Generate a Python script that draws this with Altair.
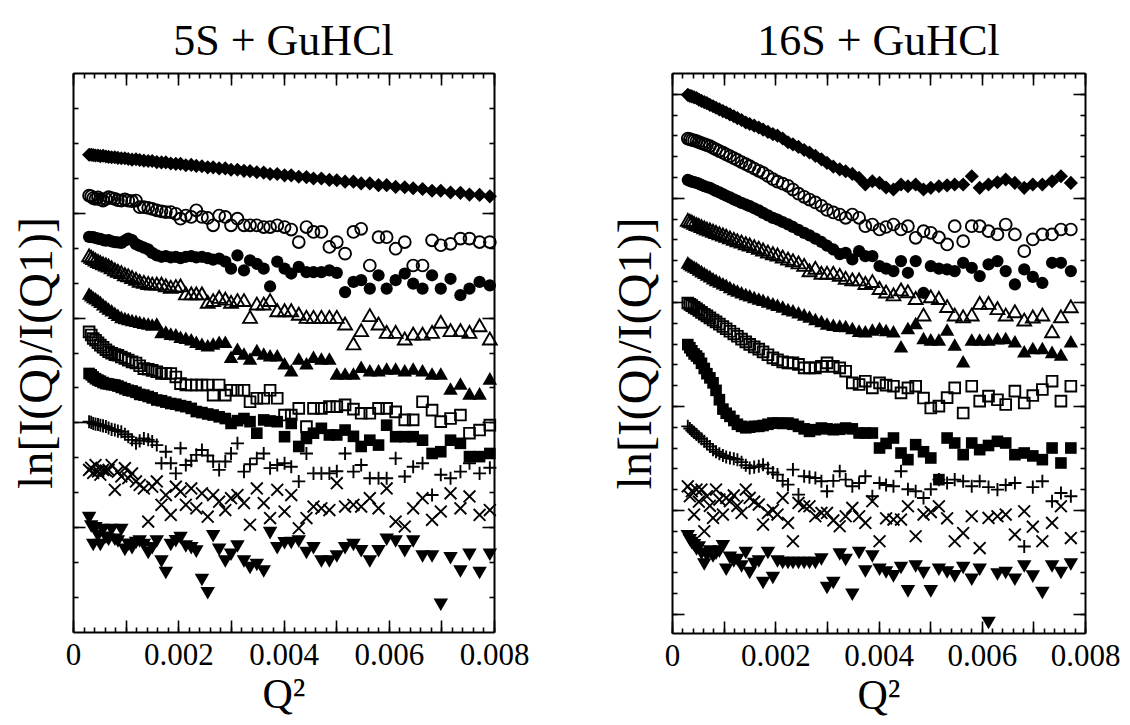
import altair as alt
import pandas as pd

# Q^2 sample positions, in units of 1e-3
Q2_E3 = [
    0.306, 0.346, 0.384, 0.428, 0.475, 0.520, 0.571, 0.625, 0.676, 0.734,
    0.795, 0.853, 0.918, 0.986, 1.050, 1.122, 1.197, 1.267, 1.347, 1.429,
    1.505, 1.592, 1.681, 1.764, 1.858, 1.954, 2.043, 2.144, 2.247, 2.343,
    2.450, 2.560, 2.663, 2.777, 2.894, 3.003, 3.125, 3.249, 3.364, 3.493,
    3.624, 3.745, 3.881, 4.020, 4.147, 4.290, 4.436, 4.570, 4.720, 4.872,
    5.013, 5.170, 5.329, 5.476, 5.640, 5.806, 5.960, 6.131, 6.304, 6.464,
    6.642, 6.823, 6.989, 7.174, 7.362, 7.534, 7.726, 7.921,
]

# ---------------- 5S + GuHCl (left) ----------------
L_DIAMOND = [
    13.66, 13.66, 13.65, 13.64, 13.64, 13.62, 13.63, 13.61, 13.60, 13.59,
    13.59, 13.57, 13.56, 13.56, 13.54, 13.52, 13.53, 13.51, 13.49, 13.48,
    13.48, 13.45, 13.44, 13.44, 13.41, 13.40, 13.40, 13.36, 13.37, 13.34,
    13.33, 13.30, 13.30, 13.27, 13.27, 13.23, 13.23, 13.20, 13.19, 13.16,
    13.15, 13.11, 13.11, 13.07, 13.07, 13.03, 13.02, 12.98, 12.98, 12.94,
    12.93, 12.89, 12.89, 12.84, 12.84, 12.79, 12.79, 12.74, 12.73, 12.70,
    12.68, 12.63, 12.63, 12.58, 12.57, 12.52, 12.51, 12.47,
]
L_OPEN_CIRCLE = [
    12.49, 12.47, 12.42, 12.40, 12.44, 12.38, 12.35, 12.40, 12.45, 12.42,
    12.40, 12.36, 12.35, 12.38, 12.35, 12.33, 12.35, 12.16, 12.16, 12.14,
    12.11, 12.07, 12.04, 12.02, 12.02, 11.97, 11.83, 11.92, 11.88, 12.07,
    11.88, 11.85, 11.64, 11.92, 11.88, 11.64, 11.83, 11.64, 11.64, 11.64,
    11.59, 11.59, 11.64, 11.59, 11.52, 11.16, 11.59, 11.45, 11.45, 11.02,
    11.16, 10.83, 11.45, 11.54, 10.49, 11.30, 11.30, 10.97, 11.16, 10.49,
    10.49, 11.21, 11.07, 11.11, 11.26, 11.26, 11.16, 11.16,
]
L_CIRCLE = [
    11.31, 11.30, 11.30, 11.28, 11.26, 11.25, 11.22, 11.20, 11.22, 11.18,
    11.16, 11.15, 11.14, 11.20, 11.26, 11.22, 11.10, 11.05, 11.00, 10.95,
    10.85, 10.78, 10.74, 10.76, 10.72, 10.74, 10.70, 10.74, 10.76, 10.72,
    10.74, 10.70, 10.66, 10.69, 10.60, 10.40, 10.78, 10.35, 10.64, 10.54,
    10.40, 9.89, 10.60, 10.40, 10.26, 10.45, 10.30, 10.30, 10.30, 10.35,
    10.28, 9.73, 10.02, 10.07, 9.83, 10.21, 9.83, 10.07, 10.26, 9.97,
    9.83, 10.21, 9.83, 10.11, 9.64, 9.83, 10.02, 9.92,
]
L_OPEN_TRIANGLE = [
    10.78, 10.74, 10.70, 10.66, 10.62, 10.59, 10.55, 10.52, 10.49, 10.44,
    10.38, 10.34, 10.30, 10.24, 10.21, 10.16, 10.11, 10.05, 10.02, 9.99,
    9.97, 9.97, 9.97, 9.92, 9.88, 9.90, 9.92, 9.69, 9.69, 9.69,
    9.69, 9.45, 9.50, 9.59, 9.54, 9.45, 9.50, 9.50, 9.02, 9.40,
    9.40, 9.50, 9.21, 9.21, 9.21, 9.11, 9.02, 9.02, 9.02, 9.02,
    9.02, 8.83, 8.26, 8.64, 9.07, 8.83, 8.59, 8.59, 8.40, 8.54,
    8.54, 8.59, 8.88, 8.64, 8.64, 8.59, 8.78, 8.40,
]
L_TRIANGLE = [
    9.69, 9.64, 9.59, 9.55, 9.50, 9.45, 9.38, 9.32, 9.26, 9.21,
    9.14, 9.08, 9.02, 8.99, 8.96, 8.93, 8.91, 8.88, 8.85, 8.83,
    8.80, 8.83, 8.59, 8.60, 8.54, 8.52, 8.45, 8.42, 8.38, 8.31,
    8.25, 8.21, 8.26, 8.31, 8.31, 7.88, 8.11, 7.97, 7.83, 8.07,
    7.97, 7.92, 7.92, 7.69, 7.49, 7.83, 7.69, 7.88, 7.83, 7.83,
    7.40, 7.40, 7.40, 7.59, 7.49, 7.49, 7.54, 7.54, 7.49, 7.54,
    7.49, 7.40, 7.40, 6.97, 7.11, 6.83, 6.83, 7.26,
]
L_OPEN_SQUARE = [
    8.59, 8.50, 8.40, 8.35, 8.28, 8.21, 8.15, 8.08, 8.02, 7.98,
    7.94, 7.92, 7.87, 7.83, 7.78, 7.73, 7.70, 7.62, 7.54, 7.52,
    7.49, 7.45, 7.40, 7.40, 7.40, 7.30, 7.11, 7.07, 7.07, 7.07,
    7.07, 7.07, 6.78, 7.07, 6.78, 6.92, 6.92, 6.92, 6.59, 6.69,
    6.69, 6.92, 6.69, 6.21, 6.21, 6.40, 5.88, 6.40, 6.40, 6.45,
    6.45, 6.50, 6.38, 6.26, 6.26, 6.40, 6.40, 6.30, 6.07, 6.07,
    6.59, 6.35, 6.02, 6.11, 6.21, 5.69, 5.78, 5.92,
]
L_SQUARE = [
    7.40, 7.36, 7.30, 7.25, 7.21, 7.18, 7.14, 7.11, 7.10, 7.08,
    7.07, 7.04, 7.00, 6.96, 6.92, 6.90, 6.86, 6.80, 6.78, 6.74,
    6.70, 6.64, 6.62, 6.58, 6.54, 6.52, 6.48, 6.45, 6.40, 6.31,
    6.28, 6.24, 6.21, 6.16, 6.11, 5.97, 6.05, 6.11, 6.02, 5.69,
    6.07, 6.04, 6.02, 5.59, 5.97, 5.31, 5.54, 5.69, 5.83, 5.64,
    5.64, 5.78, 5.60, 5.31, 5.49, 5.35, 5.92, 5.59, 5.59, 5.59,
    5.49, 5.11, 5.16, 5.49, 5.40, 5.02, 5.02, 5.11,
]
L_PLUS = [
    6.02, 6.00, 5.97, 5.95, 5.94, 5.92, 5.90, 5.88, 5.84, 5.80,
    5.78, 5.75, 5.73, 5.66, 5.59, 5.50, 5.40, 5.47, 5.54, 5.50,
    5.45, 5.35, 4.83, 5.16, 4.83, 4.54, 5.26, 4.78, 4.90, 5.07,
    5.21, 5.05, 4.88, 4.64, 4.88, 5.11, 5.40, 4.59, 4.80, 4.97,
    5.11, 4.69, 4.78, 4.83, 4.73, 4.31, 5.11, 4.54, 4.54, 4.54,
    4.60, 5.11, 4.59, 4.78, 4.40, 4.40, 4.40, 4.97, 4.45, 4.73,
    4.83, 3.92, 4.50, 4.40, 4.59, 4.83, 4.54, 4.70,
]
L_CROSS = [
    4.64, 4.70, 4.55, 4.78, 4.60, 4.50, 4.64, 4.62, 4.64, 4.78,
    4.07, 4.59, 4.45, 4.69, 4.40, 4.54, 4.31, 4.21, 4.11, 3.16,
    4.16, 4.31, 3.64, 3.92, 3.35, 4.16, 4.02, 3.64, 4.11, 3.54,
    3.97, 3.30, 3.92, 3.73, 3.49, 3.83, 3.92, 3.69, 3.07, 4.11,
    3.69, 3.26, 4.07, 3.45, 3.92, 2.97, 3.26, 3.59, 3.54, 3.49,
    4.26, 3.59, 3.64, 3.59, 3.83, 3.54, 4.11, 3.16, 3.02, 3.54,
    3.83, 3.21, 3.45, 3.97, 3.54, 3.88, 3.35, 3.49,
]
L_DOWN_TRIANGLE = [
    3.26, 3.02, 2.49, 2.97, 2.75, 2.49, 2.92, 2.70, 2.64, 2.92,
    2.64, 2.59, 2.92, 2.35, 2.50, 2.40, 2.55, 2.59, 2.49, 2.26,
    2.40, 2.59, 2.02, 1.69, 2.49, 2.60, 2.69, 2.45, 2.40, 2.30,
    1.49, 1.11, 2.74, 2.35, 2.02, 2.21, 2.45, 2.02, 1.83, 1.92,
    1.73, 2.83, 2.40, 2.54, 2.55, 2.59, 2.26, 2.40, 2.02, 2.02,
    2.16, 2.40, 2.49, 2.31, 2.02, 2.31, 2.64, 2.59, 2.31, 2.59,
    2.16, 2.16, 0.78, 2.11, 1.73, 2.21, 1.69, 2.21,
]

# ---------------- 16S + GuHCl (right) ----------------
R_DIAMOND = [
    24.95, 24.90, 24.88, 24.83, 24.80, 24.72, 24.66, 24.60, 24.55, 24.47,
    24.40, 24.33, 24.25, 24.17, 24.10, 24.01, 23.92, 23.83, 23.74, 23.62,
    23.55, 23.47, 23.38, 23.28, 23.17, 23.06, 22.99, 22.85, 22.67, 22.57,
    22.45, 22.30, 22.18, 22.02, 21.85, 21.68, 21.50, 21.37, 21.28, 21.15,
    20.96, 20.64, 20.80, 20.72, 20.50, 20.40, 20.64, 20.56, 20.64, 20.40,
    20.48, 20.56, 20.60, 20.64, 20.64, 21.04, 20.48, 20.64, 20.75, 20.88,
    20.72, 20.48, 20.64, 20.64, 20.80, 21.04, 20.72,
]
R_OPEN_CIRCLE = [
    22.85, 22.82, 22.78, 22.76, 22.73, 22.68, 22.63, 22.58, 22.53, 22.49,
    22.40, 22.33, 22.25, 22.17, 22.09, 22.00, 21.91, 21.82, 21.72, 21.62,
    21.52, 21.41, 21.30, 21.20, 21.05, 20.90, 20.78, 20.68, 20.58, 20.40,
    20.20, 20.05, 19.92, 19.78, 19.62, 19.42, 19.30, 19.20, 19.04, 19.20,
    19.04, 18.64, 18.72, 18.48, 18.60, 18.72, 18.48, 18.64, 18.08, 18.40,
    18.32, 18.10, 17.76, 18.64, 17.92, 18.64, 18.64, 18.40, 18.24, 18.72,
    18.24, 17.44, 18.00, 18.24, 18.24, 18.48, 18.48,
]
R_CIRCLE = [
    20.86, 20.82, 20.78, 20.76, 20.72, 20.68, 20.62, 20.56, 20.52, 20.48,
    20.40, 20.33, 20.26, 20.18, 20.10, 20.02, 19.93, 19.85, 19.76, 19.68,
    19.60, 19.50, 19.40, 19.28, 19.16, 19.04, 18.96, 18.84, 18.72, 18.60,
    18.46, 18.32, 18.20, 18.04, 17.88, 17.70, 17.52, 17.30, 17.36, 17.04,
    17.44, 17.20, 17.20, 16.72, 16.60, 16.48, 16.96, 16.40, 16.96, 15.43,
    16.72, 16.60, 16.56, 16.48, 16.88, 16.64, 16.24, 16.80, 16.96, 16.48,
    15.84, 16.56, 16.20, 15.91, 16.88, 16.88, 16.48,
]
R_OPEN_TRIANGLE = [
    18.94, 18.90, 18.86, 18.80, 18.74, 18.70, 18.64, 18.58, 18.52, 18.48,
    18.42, 18.36, 18.30, 18.24, 18.18, 18.10, 18.03, 17.96, 17.90, 17.82,
    17.76, 17.68, 17.60, 17.52, 17.42, 17.34, 17.28, 17.18, 17.08, 17.00,
    16.90, 16.78, 16.52, 16.64, 16.40, 16.40, 16.40, 16.30, 16.16, 16.08,
    16.08, 15.91, 16.00, 15.67, 15.50, 15.36, 15.60, 15.51, 15.19, 14.39,
    15.27, 15.19, 14.80, 14.39, 14.31, 14.39, 14.95, 14.95, 14.70, 14.39,
    14.55, 14.15, 14.30, 14.39, 13.59, 14.31, 14.79,
]
R_TRIANGLE = [
    16.90, 16.82, 16.76, 16.70, 16.64, 16.56, 16.48, 16.40, 16.32, 16.24,
    16.14, 16.06, 15.98, 15.90, 15.82, 15.72, 15.62, 15.55, 15.46, 15.38,
    15.32, 15.24, 15.16, 15.10, 15.02, 14.94, 14.86, 14.78, 14.66, 14.60,
    14.50, 14.40, 14.30, 14.18, 14.08, 13.96, 13.90, 13.86, 13.84, 13.75,
    13.62, 13.59, 13.67, 13.75, 13.65, 13.59, 12.87, 13.75, 13.99, 13.27,
    13.20, 13.19, 13.67, 12.95, 12.15, 13.19, 13.19, 13.19, 13.25, 13.27,
    13.11, 12.63, 12.79, 12.79, 12.60, 12.47, 13.11,
]
R_OPEN_SQUARE = [
    14.95, 14.88, 14.82, 14.74, 14.67, 14.59, 14.50, 14.41, 14.33, 14.23,
    14.13, 14.04, 13.93, 13.82, 13.71, 13.59, 13.46, 13.35, 13.21, 13.08,
    12.96, 12.84, 12.73, 12.60, 12.46, 12.31, 12.22, 12.12, 12.07, 12.07,
    12.00, 11.83, 11.83, 11.83, 11.90, 12.07, 11.90, 11.83, 11.67, 11.11,
    11.03, 11.19, 10.87, 11.11, 11.00, 10.95, 10.63, 10.87, 10.95, 10.38,
    9.90, 9.99, 10.40, 10.87, 9.66, 10.95, 10.23, 10.47, 10.30, 10.07,
    10.71, 10.14, 10.50, 10.79, 11.19, 10.23, 10.95,
]
R_SQUARE = [
    12.95, 12.80, 12.65, 12.50, 12.40, 12.28, 12.05, 11.80, 11.55, 11.35,
    11.11, 10.75, 10.30, 9.85, 9.65, 9.50, 9.30, 9.12, 9.02, 8.95,
    8.98, 9.02, 9.02, 9.06, 9.12, 9.18, 9.18, 9.16, 9.18, 9.12,
    9.02, 8.90, 8.78, 8.86, 8.94, 8.90, 8.86, 8.88, 8.94, 8.90,
    8.70, 8.70, 8.70, 7.98, 8.20, 8.46, 7.74, 7.42, 8.14, 7.80,
    7.50, 6.46, 8.46, 8.22, 7.66, 8.22, 7.90, 8.10, 8.30, 8.22,
    7.66, 7.74, 7.60, 7.42, 7.98, 7.26, 7.98,
]
R_PLUS = [
    9.02, 8.92, 8.82, 8.72, 8.63, 8.52, 8.42, 8.30, 8.18, 8.05,
    7.90, 7.80, 7.70, 7.62, 7.55, 7.50, 7.46, 7.42, 7.30, 7.15,
    7.02, 7.06, 7.10, 7.18, 7.00, 6.80, 6.70, 6.40, 6.22, 6.94,
    5.74, 6.62, 6.58, 6.54, 6.38, 5.90, 6.40, 6.86, 6.46, 6.14,
    6.30, 6.62, 5.66, 6.30, 6.20, 6.14, 6.86, 6.00, 5.90, 5.58,
    6.00, 6.46, 6.30, 6.46, 6.38, 6.14, 6.38, 6.10, 5.98, 6.20,
    6.30, 3.25, 6.10, 6.38, 5.42, 5.82, 5.66,
]
R_CROSS = [
    6.14, 5.66, 5.90, 4.78, 5.98, 5.40, 5.98, 3.98, 5.66, 5.20,
    4.62, 5.98, 5.50, 4.78, 5.58, 5.42, 5.70, 5.20, 4.86, 5.98,
    5.58, 5.40, 5.26, 4.30, 4.86, 5.00, 4.78, 5.58, 4.38, 3.50,
    5.34, 5.18, 5.18, 4.70, 4.86, 4.86, 4.50, 4.22, 4.70, 5.10,
    4.70, 4.38, 5.42, 3.50, 4.60, 4.54, 4.54, 5.18, 3.74, 4.78,
    4.90, 5.18, 4.60, 3.50, 3.89, 4.70, 3.17, 4.62, 4.70, 4.78,
    3.82, 4.94, 4.20, 3.50, 4.38, 5.18, 3.65,
]
R_DOWN_TRIANGLE = [
    3.74, 3.55, 3.41, 3.30, 3.10, 3.20, 2.90, 2.38, 2.80, 3.01,
    2.77, 2.90, 3.00, 3.26, 2.13, 2.70, 2.53, 2.60, 2.29, 2.93,
    1.97, 2.40, 2.53, 1.49, 2.93, 1.73, 2.53, 2.45, 2.45, 2.45,
    2.45, 2.45, 2.45, 2.45, 2.62, 1.25, 1.49, 2.86, 2.60, 0.93,
    2.93, 2.05, 2.77, 2.13, 2.00, 1.81, 2.21, 1.09, 2.29, 1.97,
    1.09, 2.13, 2.00, 1.81, 2.21, 1.65, 2.13, -0.43, 1.90, 1.97,
    1.65, 2.29, 1.80, 1.01, 2.29, 1.97, 2.38,
]

X_DOMAIN = [0, 0.008]
X_LABELS = [0, 0.002, 0.004, 0.006, 0.008]
X_MAJOR = [0, 0.001, 0.002, 0.003, 0.004, 0.005, 0.006, 0.007, 0.008]
X_MINOR_STEP = 0.0002

L_Y_DOMAIN = [0, 16]
L_Y_MINOR = list(range(1, 16))
L_Y_MAJOR = [3, 6, 9, 12]
R_Y_DOMAIN = [-0.91, 26.0]
R_Y_MINOR = list(range(0, 26))
R_Y_MAJOR = [0, 5, 10, 15, 20, 25]

FONT = "Liberation Serif"
PLUS = "M-1,0L1,0M0,-1L0,1"
CROSS = "M-1,-1L1,1M-1,1L1,-1"

LEFT = [L_DIAMOND, L_OPEN_CIRCLE, L_CIRCLE, L_OPEN_TRIANGLE, L_TRIANGLE,
        L_OPEN_SQUARE, L_SQUARE, L_PLUS, L_CROSS, L_DOWN_TRIANGLE]
RIGHT = [R_DIAMOND, R_OPEN_CIRCLE, R_CIRCLE, R_OPEN_TRIANGLE, R_TRIANGLE,
         R_OPEN_SQUARE, R_SQUARE, R_PLUS, R_CROSS, R_DOWN_TRIANGLE]
# (shape, filled, size)
STYLES = [
    ("diamond", True, 200),
    ("circle", False, 140),
    ("circle", True, 150),
    ("triangle-up", False, 190),
    ("triangle-up", True, 210),
    ("square", False, 115),
    ("square", True, 135),
    (PLUS, False, 170),
    (CROSS, False, 140),
    ("triangle-down", True, 210),
]

x_minor = [round(i * X_MINOR_STEP, 6) for i in range(41)]


def series_df(vals):
    rows = [{"x": q * 1e-3, "y": v} for q, v in zip(Q2_E3, vals)]
    return pd.DataFrame(rows)


def panel(series, title, ydom, yminor, ymajor, w, h):
    xs = alt.Scale(domain=X_DOMAIN, nice=False, zero=False)
    ys = alt.Scale(domain=ydom, nice=False, zero=False)
    layers = []
    for vals, (shape, filled, size) in zip(series, STYLES):
        mk = alt.Chart(series_df(vals)).mark_point(
            shape=shape, filled=filled, size=size, color="black",
            strokeWidth=1.9, opacity=1, fillOpacity=1 if filled else 0,
        ).encode(
            x=alt.X("x:Q", scale=xs, axis=None),
            y=alt.Y("y:Q", scale=ys, axis=None),
        )
        layers.append(mk)

    base_df = series_df(series[0])

    def ax(xaxis=None, yaxis=None):
        return alt.Chart(base_df).mark_point(opacity=0).encode(
            x=alt.X("x:Q", scale=xs, axis=xaxis),
            y=alt.Y("y:Q", scale=ys, axis=yaxis),
        )

    tick = dict(labels=False, domain=False, grid=False, title=None,
                tickColor="black", tickWidth=1.6)
    frame = dict(labels=False, ticks=False, grid=False, domain=True,
                 domainColor="black", domainWidth=2)
    layers += [
        # inward minor / major ticks on all four sides
        ax(xaxis=alt.Axis(orient="bottom", values=x_minor, tickSize=5, offset=-5, **tick)),
        ax(xaxis=alt.Axis(orient="bottom", values=X_MAJOR, tickSize=12, offset=-12, **tick)),
        ax(xaxis=alt.Axis(orient="top", values=x_minor, tickSize=5, offset=-5, **tick)),
        ax(xaxis=alt.Axis(orient="top", values=X_MAJOR, tickSize=12, offset=-12, **tick)),
        ax(yaxis=alt.Axis(orient="left", values=yminor, tickSize=5, offset=-5, **tick)),
        ax(yaxis=alt.Axis(orient="left", values=ymajor, tickSize=12, offset=-12, **tick)),
        ax(yaxis=alt.Axis(orient="right", values=yminor, tickSize=5, offset=-5, **tick)),
        ax(yaxis=alt.Axis(orient="right", values=ymajor, tickSize=12, offset=-12, **tick)),
        # frame lines, labels and titles
        ax(xaxis=alt.Axis(orient="top", title=None, **frame)),
        ax(yaxis=alt.Axis(orient="right", title=None, **frame)),
        ax(xaxis=alt.Axis(orient="bottom", values=X_LABELS, ticks=False, domain=True,
                          domainColor="black", domainWidth=2,
                          grid=False, labels=True, format="~g", labelFont=FONT,
                          labelFontSize=31, labelColor="black", labelPadding=8,
                          labelFlush=False, labelOverlap=False, labelBound=False,
                          title="Q²", titleFont=FONT, titleFontSize=42,
                          titleFontWeight="normal", titleColor="black", titlePadding=4)),
        ax(yaxis=alt.Axis(orient="left", ticks=False, domain=True, domainColor="black",
                          domainWidth=2, labels=False, grid=False,
                          title="ln[I(Q)/I(Q1)]", titleFont=FONT,
                          titleFontSize=48, titleFontWeight="normal", titleColor="black",
                          titlePadding=12)),
    ]
    return alt.layer(*layers).resolve_axis(x="independent", y="independent").properties(
        width=w, height=h,
        title=alt.TitleParams(text=title, font=FONT, fontSize=44, fontWeight="normal",
                              color="black", offset=8, frame="group"),
    )


left = panel(LEFT, "5S + GuHCl", L_Y_DOMAIN, L_Y_MINOR, L_Y_MAJOR, 421, 559)
right = panel([s[:67] for s in RIGHT], "16S + GuHCl", R_Y_DOMAIN, R_Y_MINOR, R_Y_MAJOR, 413, 560)

chart = alt.hconcat(left, right, spacing=81).properties(
    padding={"left": 4, "top": 11, "right": 0, "bottom": 0}
).configure_view(strokeWidth=0).configure(background="white")

chart.save("out.html", embed_options={"renderer": "svg", "actions": False})
